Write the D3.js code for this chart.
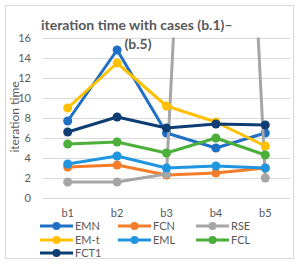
<!DOCTYPE html>
<html>
<head>
<meta charset="utf-8">
<script src="https://cdnjs.cloudflare.com/ajax/libs/d3/7.8.5/d3.min.js"></script>
<style>
  body { margin: 0; background: #fff; }
  svg { display: block; font-family: Lato, "Open Sans", sans-serif; }
</style>
</head>
<body>
<div id="chart"></div>
<script>
const categories = ['b1', 'b2', 'b3', 'b4', 'b5'];
const seriesNames = ['EMN', 'FCN', 'RSE', 'EM-t', 'EML', 'FCL', 'FCT1'];
const seriesColors = ['#1f6fc4', '#f57d2a', '#a6a6a6', '#ffc000', '#2196e0', '#4caf3a', '#0e3d73'];
const emn = [7.7, 14.8, 6.5, 5.0, 6.5];
const fcn = [3.1, 3.3, 2.3, 2.5, 3.0];
const rse = [1.6, 1.6, 2.4, 100, 2.0];
const emt = [9.0, 13.5, 9.2, 7.6, 5.2];
const eml = [3.4, 4.2, 3.0, 3.2, 3.0];
const fcl = [5.4, 5.6, 4.5, 6.0, 4.3];
const fct1 = [6.6, 8.1, 7.0, 7.4, 7.3];
const yTicks = [0, 2, 4, 6, 8, 10, 12, 14, 16];

const series = [emn, fcn, rse, emt, eml, fcl, fct1].map((values, i) => ({
    name: seriesNames[i], color: seriesColors[i], values
}));

const W = 300, H = 264;
const plot = { left: 43, right: 290, top: 38, bottom: 198 };

const svg = d3.select('#chart').append('svg')
    .attr('width', W).attr('height', H);

// chart border
svg.append('rect')
    .attr('x', 5.5).attr('y', 5.5)
    .attr('width', 288).attr('height', 253)
    .attr('fill', '#fff').attr('stroke', '#d9d9d9');

const x = d3.scaleBand().domain(categories).range([plot.left, plot.right]);
const y = d3.scaleLinear().domain([0, 16]).range([plot.bottom, plot.top]);

// gridlines
svg.append('g')
    .attr('transform', `translate(${plot.left},0)`)
    .call(d3.axisLeft(y).tickValues(yTicks).tickSize(-(plot.right - plot.left)).tickFormat(''))
    .call(g => g.select('.domain').remove())
    .selectAll('line').attr('stroke', '#d9d9d9');

// y tick labels
svg.append('g')
    .selectAll('text')
    .data(yTicks)
    .enter().append('text')
    .attr('x', 31).attr('y', d => y(d))
    .attr('dy', '0.35em')
    .attr('text-anchor', 'end')
    .attr('font-size', '11px')
    .attr('fill', '#595959')
    .text(d => d);

// x tick labels
svg.append('g')
    .selectAll('text')
    .data(categories)
    .enter().append('text')
    .attr('x', d => x(d) + x.bandwidth() / 2)
    .attr('y', 217)
    .attr('text-anchor', 'middle')
    .attr('font-size', '11px')
    .attr('fill', '#595959')
    .text(d => d);

// y axis title
svg.append('text')
    .attr('transform', 'translate(19,117) rotate(-90)')
    .attr('text-anchor', 'middle')
    .attr('font-size', '12px')
    .attr('fill', '#595959')
    .text('iteration time');

// clip lines to plot area
svg.append('clipPath').attr('id', 'plot-clip')
    .append('rect')
    .attr('x', plot.left - 10).attr('y', plot.top - 0.5)
    .attr('width', plot.right - plot.left + 20)
    .attr('height', plot.bottom - plot.top + 10);

const cx = (d, i) => x(categories[i]) + x.bandwidth() / 2;
const line = d3.line().x(cx).y(d => y(d));

const lines = svg.append('g').attr('clip-path', 'url(#plot-clip)');
series.forEach(s => {
    lines.append('path')
        .datum(s.values)
        .attr('fill', 'none')
        .attr('stroke', s.color)
        .attr('stroke-width', 3)
        .attr('stroke-linejoin', 'round')
        .attr('d', line);
    lines.selectAll(null)
        .data(s.values)
        .enter().append('circle')
        .attr('cx', cx)
        .attr('cy', d => y(d))
        .attr('r', 4.5)
        .attr('fill', s.color);
});

// title, sized so the first line spans about 41..233 like the original
const title1 = svg.append('text')
    .attr('x', 41).attr('y', 30)
    .attr('font-size', '14px')
    .attr('font-weight', 'bold')
    .attr('fill', '#595959')
    .text('iteration time with cases (b.1)–');
const tw = title1.node().getComputedTextLength();
const titleSize = Math.min(14, 14 * 192 / tw);
title1.attr('font-size', titleSize + 'px');
svg.append('text')
    .attr('x', 138).attr('y', 49)
    .attr('text-anchor', 'middle')
    .attr('font-size', titleSize + 'px')
    .attr('font-weight', 'bold')
    .attr('fill', '#595959')
    .text('(b.5)');

// legend
const legendCols = [40, 118, 196];
const legendRows = [226, 240, 253];
series.forEach((s, i) => {
    const lx = legendCols[i % 3];
    const ly = legendRows[Math.floor(i / 3)];
    const g = svg.append('g');
    g.append('line')
        .attr('x1', lx).attr('x2', lx + 33)
        .attr('y1', ly).attr('y2', ly)
        .attr('stroke', s.color).attr('stroke-width', 3);
    g.append('circle')
        .attr('cx', lx + 16.5).attr('cy', ly).attr('r', 4)
        .attr('fill', s.color);
    g.append('text')
        .attr('x', lx + 35).attr('y', ly)
        .attr('dy', '0.35em')
        .attr('font-size', '11px')
        .attr('fill', '#595959')
        .text(s.name);
});
</script>
</body>
</html>
